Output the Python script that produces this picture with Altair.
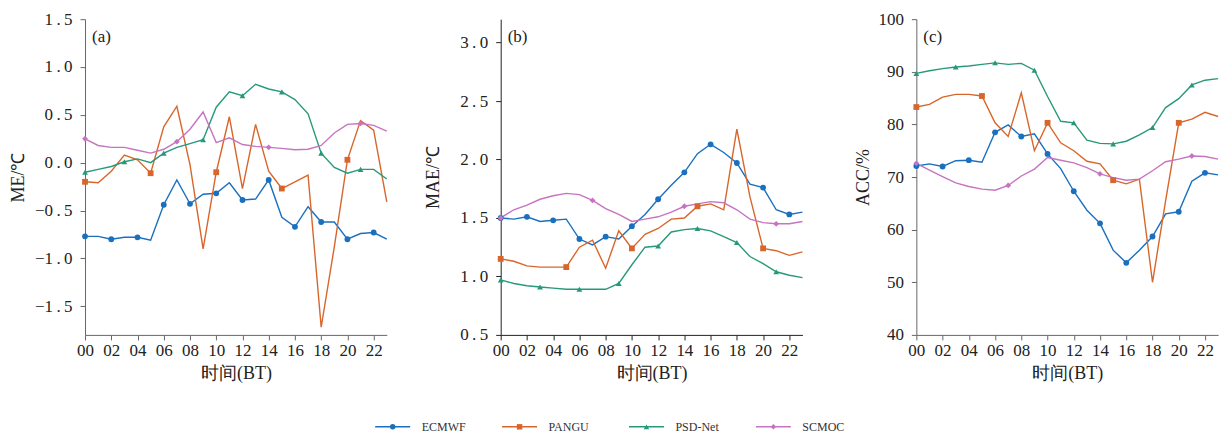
import altair as alt
import pandas as pd

hours = list(range(24))
series = ["ECMWF", "PANGU", "PSD-Net", "SCMOC"]
colors = ["#1a6fbf", "#d8662c", "#27997a", "#c774c0"]
shapes = ["circle", "square", "triangle-up", "diamond"]

# hours at which each series shows a marker
ecmwf_marks = [0, 2, 4, 6, 8, 10, 12, 14, 16, 18, 20, 22]
pangu_marks = [0, 5, 10, 15, 20]
psd_marks = [0, 3, 6, 9, 12, 15, 18, 21]
scmoc_marks = [0, 7, 14, 21]

# (a) ME
me_ecmwf = [-0.77, -0.77, -0.80, -0.78, -0.78, -0.81, -0.44, -0.18, -0.43, -0.33, -0.32, -0.21,
            -0.39, -0.38, -0.18, -0.57, -0.67, -0.46, -0.62, -0.62, -0.80, -0.74, -0.73, -0.80]
me_pangu = [-0.20, -0.21, -0.09, 0.08, 0.03, -0.11, 0.375, 0.59, -0.02, -0.90, -0.10, 0.48,
            -0.27, 0.40, -0.09, -0.27, -0.20, -0.13, -1.72, -0.88, 0.03, 0.44, 0.34, -0.41]
me_psd = [-0.10, -0.07, -0.04, 0.01, 0.04, 0.00, 0.10, 0.16, 0.20, 0.24, 0.58, 0.74,
          0.70, 0.82, 0.77, 0.74, 0.66, 0.51, 0.10, -0.05, -0.11, -0.07, -0.07, -0.17]
me_scmoc = [0.25, 0.18, 0.16, 0.16, 0.13, 0.10, 0.14, 0.22, 0.35, 0.53, 0.21, 0.26,
            0.19, 0.17, 0.16, 0.15, 0.135, 0.14, 0.18, 0.31, 0.40, 0.41, 0.39, 0.33]

# (b) MAE
mae_ecmwf = [1.50, 1.49, 1.51, 1.47, 1.48, 1.49, 1.32, 1.27, 1.34, 1.32, 1.43, 1.53,
             1.66, 1.78, 1.89, 2.05, 2.13, 2.06, 1.97, 1.79, 1.76, 1.57, 1.53, 1.55]
mae_pangu = [1.15, 1.13, 1.09, 1.08, 1.08, 1.08, 1.25, 1.31, 1.07, 1.39, 1.24, 1.36,
             1.41, 1.49, 1.50, 1.60, 1.62, 1.57, 2.26, 1.68, 1.24, 1.22, 1.18, 1.21]
mae_psd = [0.97, 0.94, 0.92, 0.91, 0.90, 0.89, 0.89, 0.89, 0.89, 0.94, 1.10, 1.25,
           1.26, 1.38, 1.40, 1.41, 1.39, 1.34, 1.29, 1.17, 1.11, 1.04, 1.01, 0.99]
mae_scmoc = [1.50, 1.57, 1.61, 1.66, 1.69, 1.71, 1.70, 1.65, 1.58, 1.53, 1.47, 1.49,
             1.51, 1.55, 1.60, 1.62, 1.64, 1.63, 1.57, 1.49, 1.46, 1.45, 1.45, 1.47]

# (c) ACC
acc_ecmwf = [72.1, 72.5, 72.0, 73.1, 73.2, 72.8, 78.5, 79.9, 77.7, 78.2, 74.4, 71.6,
             67.3, 63.7, 61.2, 56.1, 53.7, 56.1, 58.7, 63.0, 63.4, 69.2, 70.8, 70.4]
acc_pangu = [83.3, 83.8, 85.2, 85.7, 85.7, 85.4, 80.3, 77.7, 86.0, 75.0, 80.3, 76.5,
             75.0, 73.0, 72.5, 69.4, 68.7, 69.6, 50.0, 65.5, 80.3, 81.0, 82.3, 81.5]
acc_psd = [89.7, 90.2, 90.6, 90.9, 91.1, 91.4, 91.7, 91.4, 91.6, 90.3, 85.3, 80.6,
           80.3, 77.0, 76.4, 76.3, 76.8, 78.0, 79.4, 83.2, 84.9, 87.5, 88.4, 88.7]
acc_scmoc = [72.6, 71.3, 70.1, 68.9, 68.2, 67.7, 67.5, 68.4, 70.2, 71.5, 73.7, 73.2,
             72.7, 71.8, 70.6, 69.9, 69.4, 69.6, 71.2, 72.9, 73.4, 74.0, 73.9, 73.4]

marks = {"ECMWF": ecmwf_marks, "PANGU": pangu_marks, "PSD-Net": psd_marks, "SCMOC": scmoc_marks}
panels = {
    "a": [me_ecmwf, me_pangu, me_psd, me_scmoc],
    "b": [mae_ecmwf, mae_pangu, mae_psd, mae_scmoc],
    "c": [acc_ecmwf, acc_pangu, acc_psd, acc_scmoc],
}

rows = []
for key, vals in panels.items():
    for s, v in zip(series, vals):
        for h, y in zip(hours, v):
            rows.append({"panel": key, "series": s, "hour": h, "value": y, "marker": h in marks[s]})
df = pd.DataFrame(rows)

FONT = "Liberation Serif, serif"
W, H = 302, 316
THIN = "\u2009"
NOVIEW = alt.ViewBackground(stroke="transparent", strokeWidth=0)


def panel(key, ytitle, domain, ticks, label_expr, extent, tpad, axcolor):
    d = df[df.panel == key]
    xaxis = alt.Axis(values=list(range(0, 23, 2)),
                     labelExpr="datum.value < 10 ? '0' + datum.value : '' + datum.value",
                     title="时间(BT)", grid=False, domainColor=axcolor, tickColor=axcolor,
                     tickSize=5, labelFontSize=17, titleFontSize=18, labelPadding=3,
                     titlePadding=6, labelFont=FONT, titleFont=FONT, labelColor="#222",
                     titleColor="#222", titleFontWeight="normal", labelFlush=False,
                     labelOverlap=False)
    yaxis = alt.Axis(values=ticks, labelExpr=label_expr, title=ytitle, grid=False,
                     domainColor=axcolor, tickColor=axcolor, tickSize=5, labelFontSize=17,
                     titleFontSize=18, labelPadding=8, titlePadding=tpad, minExtent=extent,
                     maxExtent=extent, labelFont=FONT, titleFont=FONT, labelColor="#222",
                     titleColor="#222", titleFontWeight="normal", labelFlush=False,
                     labelOverlap=False)
    base = alt.Chart(d).encode(
        x=alt.X("hour:Q", scale=alt.Scale(domain=[0, 23], nice=False, zero=False), axis=xaxis),
        y=alt.Y("value:Q", scale=alt.Scale(domain=domain, nice=False, zero=False), axis=yaxis),
        color=alt.Color("series:N", scale=alt.Scale(domain=series, range=colors), legend=None),
    )
    lines = base.mark_line(strokeWidth=1.4).encode(order="hour:Q")
    pts = base.transform_filter("datum.marker").mark_point(filled=True, opacity=1, size=34).encode(
        shape=alt.Shape("series:N", scale=alt.Scale(domain=series, range=shapes), legend=None))
    lab = alt.Chart(pd.DataFrame({"t": ["(" + key + ")"]})).mark_text(
        align="left", baseline="middle", fontSize=17, font=FONT, color="#222"
    ).encode(x=alt.value(7), y=alt.value(18), text="t:N")
    return alt.layer(lines, pts, lab).properties(width=W, height=H, view=NOVIEW)


dec_expr = "replace(format(datum.value, '.1f'), '.', '" + THIN + "." + THIN + "')"
int_expr = "format(datum.value, 'd')"

pa = panel("a", "ME/℃", [-1.8, 1.5], [-1.5, -1.0, -0.5, 0.0, 0.5, 1.0, 1.5], dec_expr, 52, 6, "#666")
pb = panel("b", "MAE/℃", [0.5, 3.2], [0.5, 1.0, 1.5, 2.0, 2.5, 3.0], dec_expr, 41, 17, "#222")
pc = panel("c", "ACC/%", [40, 100], [40, 50, 60, 70, 80, 90, 100], int_expr, 39, 5, "#666")

leg_df = pd.DataFrame({"series": series})
lx = alt.X("series:N", scale=alt.Scale(type="point", domain=series, padding=0.5), axis=None)
lc = alt.Color("series:N", scale=alt.Scale(domain=series, range=colors), legend=None)
leg_line = alt.Chart(leg_df).mark_point(shape="M-1,0L1,0", size=1225, strokeWidth=1.5,
                                        filled=False, opacity=1, xOffset=-70).encode(
    x=lx, color=lc, y=alt.value(10))
leg_pt = alt.Chart(leg_df).mark_point(filled=True, size=30, opacity=1, xOffset=-70).encode(
    x=lx, color=lc, y=alt.value(10),
    shape=alt.Shape("series:N", scale=alt.Scale(domain=series, range=shapes), legend=None))
leg_txt = alt.Chart(leg_df).mark_text(align="left", baseline="middle", xOffset=-41, fontSize=12,
                                      font=FONT, color="#333").encode(
    x=lx, y=alt.value(10), text="series:N")
legend = alt.layer(leg_line, leg_pt, leg_txt).properties(width=508, height=20, view=NOVIEW)

top = alt.hconcat(alt.hconcat(pa, pb, spacing=35), pc, spacing=49)
chart = alt.vconcat(top, legend, center=True, spacing=34).properties(
    padding={"left": 9, "top": 10, "right": 2, "bottom": 2}
).configure_view(stroke="transparent", strokeWidth=0).configure(font=FONT)

chart.save("out.html", embed_options={"renderer": "svg", "actions": False})
